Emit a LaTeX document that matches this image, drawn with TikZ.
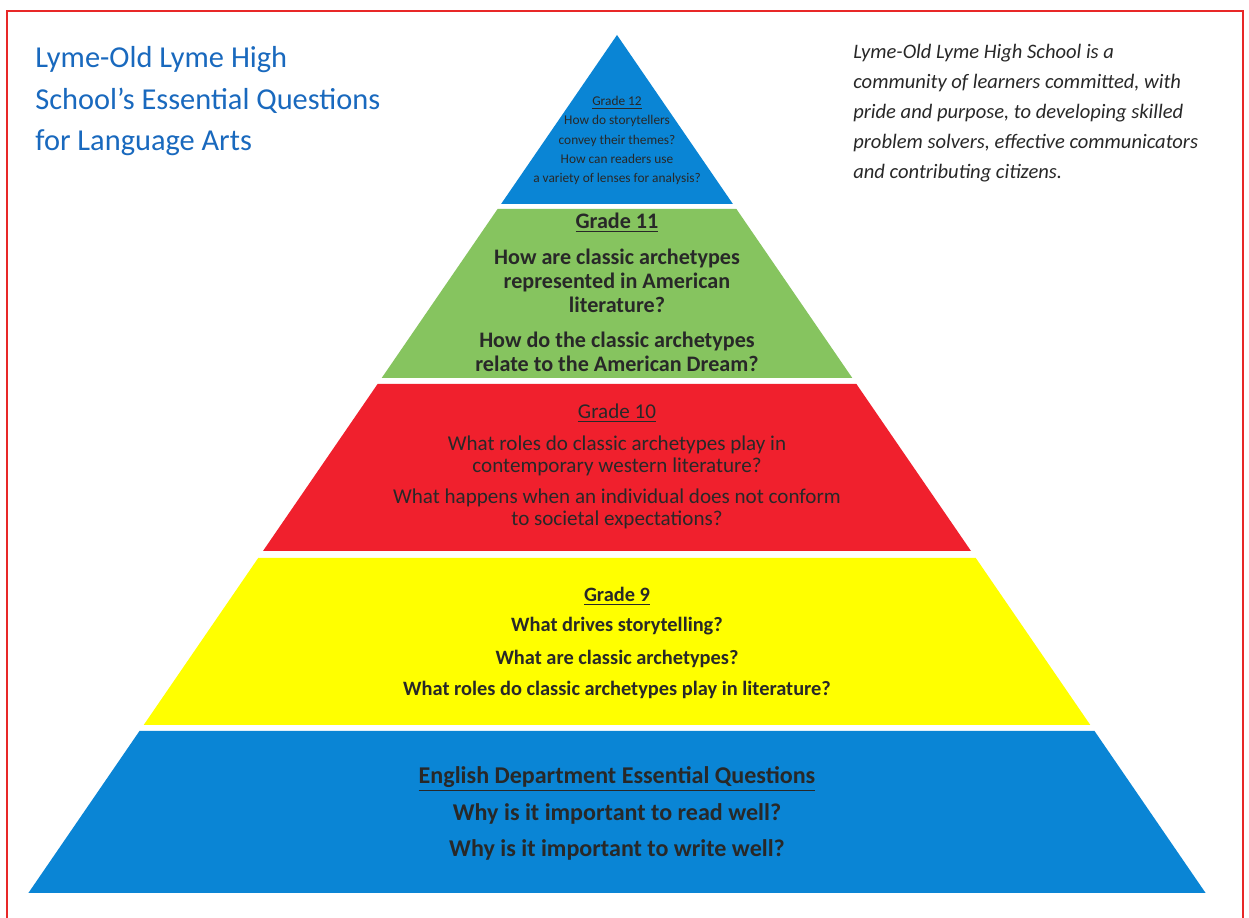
\documentclass[tikz,border=0pt]{standalone}
\usepackage{fontspec}
\setmainfont{Carlito}
\definecolor{pblue}{RGB}{10,133,213}
\definecolor{pgreen}{RGB}{134,196,95}
\definecolor{pred}{RGB}{240,32,45}
\definecolor{pyellow}{RGB}{255,255,0}
\definecolor{ttlblue}{RGB}{25,105,190}
\definecolor{frame}{RGB}{232,40,40}
\definecolor{txt}{RGB}{40,40,40}
\begin{document}
\begin{tikzpicture}[x=0.02cm,y=-0.02cm,
  band/.style={draw=none},
  tiertext/.style={align=center,text=txt,inner sep=0pt},
]
\useasboundingbox (0,0) rectangle (1249,918);
\fill[white] (0,0) rectangle (1249,918);
% frame
\draw[frame,line width=1.2pt] (7,930) -- (7,11) -- (1243,11) -- (1243,930);
% pyramid bands
\fill[pblue]   (617,35) -- (732.9,204) -- (501.1,204) -- cycle;
\fill[pgreen]  (497.6,209) -- (736.4,209) -- (852.3,378) -- (381.7,378) -- cycle;
\fill[pred]    (377.6,384) -- (856.4,384) -- (971.0,551) -- (263.0,551) -- cycle;
\fill[pyellow] (258.2,558) -- (975.8,558) -- (1090.3,725) -- (143.7,725) -- cycle;
\fill[pblue]   (139.5,731) -- (1094.5,731) -- (1205.6,893) -- (28.4,893) -- cycle;
% title
\node[anchor=north west,align=left,text=ttlblue,font=\fontsize{17.3pt}{23.5pt}\selectfont,inner sep=0pt] (title) at (35,46.5)
  {Lyme-Old Lyme High\\School’s Essential Questions\\for Language Arts};
% mission
\node[anchor=north west,align=left,text=txt,font=\itshape\fontsize{11.7pt}{17.1pt}\selectfont,inner sep=0pt] (mission) at (853,43.5)
  {Lyme-Old Lyme High School is a\\community of learners committed, with\\pride and purpose, to developing skilled\\problem solvers, effective communicators\\and contributing citizens.};
% grade 12
\node[tiertext,font=\fontsize{7.6pt}{10.9pt}\selectfont] (g12) at (617,140.5)
  {\underline{Grade 12}\\How do storytellers\\convey their themes?\\How can readers use\\a variety of lenses for analysis?};
% grade 11
\node[tiertext,font=\bfseries\fontsize{12.6pt}{13.5pt}\selectfont] (g11h) at (617,223) {\underline{Grade 11}};
\node[tiertext,font=\bfseries\fontsize{12.6pt}{13.5pt}\selectfont] (g11a) at (617,281)
  {How are classic archetypes\\represented in American\\literature?};
\node[tiertext,font=\bfseries\fontsize{12.6pt}{13.5pt}\selectfont] (g11b) at (617,352)
  {How do the classic archetypes\\relate to the American Dream?};
% grade 10
\node[tiertext,font=\fontsize{12pt}{12.4pt}\selectfont] (g10h) at (617,413) {\underline{Grade 10}};
\node[tiertext,font=\fontsize{12pt}{12.4pt}\selectfont] (g10a) at (617,456)
  {What roles do classic archetypes play in\\contemporary western literature?};
\node[tiertext,font=\fontsize{12pt}{12.4pt}\selectfont] (g10b) at (617,509)
  {What happens when an individual does not conform\\to societal expectations?};
% grade 9
\node[tiertext,font=\bfseries\fontsize{11.6pt}{12pt}\selectfont] (g9h) at (617,596) {\underline{Grade 9}};
\node[tiertext,font=\bfseries\fontsize{11.6pt}{12pt}\selectfont] (g9a) at (617,626) {What drives storytelling?};
\node[tiertext,font=\bfseries\fontsize{11.6pt}{12pt}\selectfont] (g9b) at (617,659) {What are classic archetypes?};
\node[tiertext,font=\bfseries\fontsize{11.6pt}{12pt}\selectfont] (g9c) at (617,690) {What roles do classic archetypes play in literature?};
% base
\node[tiertext,font=\bfseries\fontsize{13.7pt}{14pt}\selectfont] (baseh) at (617,779) {\underline{English Department Essential Questions}};
\node[tiertext,font=\bfseries\fontsize{13.7pt}{14pt}\selectfont] (basea) at (617,814) {Why is it important to read well?};
\node[tiertext,font=\bfseries\fontsize{13.7pt}{14pt}\selectfont] (baseb) at (617,850) {Why is it important to write well?};
\end{tikzpicture}
\end{document}
